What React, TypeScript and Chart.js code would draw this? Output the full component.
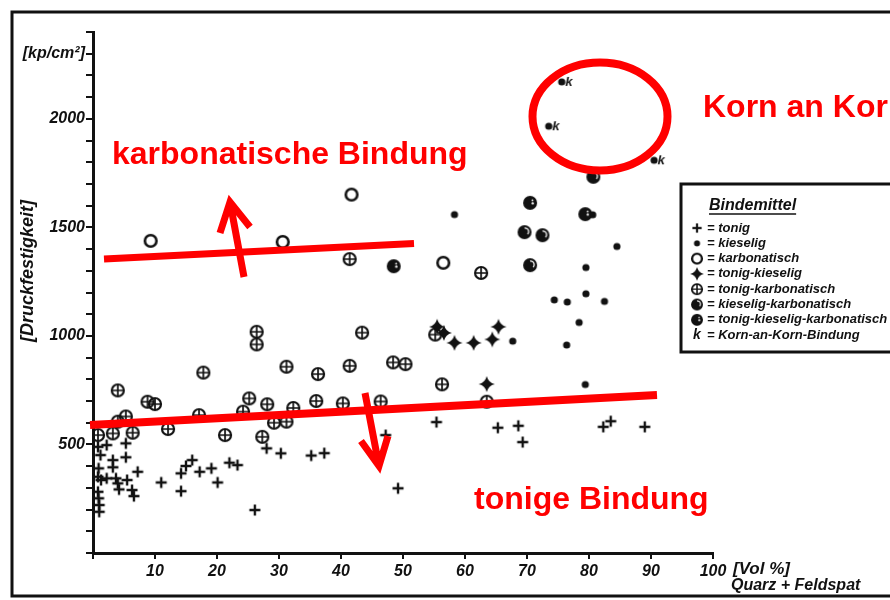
import React, { useEffect, useRef } from 'react';
import { Chart, registerables } from 'chart.js';

Chart.register(...registerables);

type Pt = [number, number];

// Quarz + Feldspat [Vol %] vs. Druckfestigkeit [kp/cm²], grouped by Bindemittel
const tonig: Pt[] = [
  [0.8, 489], [2.2, 497], [1.2, 451], [3.2, 428], [3.2, 395], [5.3, 505], [5.3, 441], [7.2, 374],
  [0.9, 390], [0.8, 351], [1.3, 336], [2.2, 344], [3.7, 344], [4.0, 321], [4.2, 293], [5.5, 336],
  [6.3, 290], [6.6, 262], [0.8, 282], [0.9, 252], [1.0, 221], [1.0, 190], [11.0, 325], [14.2, 367],
  [14.2, 285], [15.0, 401], [16.0, 428], [17.2, 374], [19.1, 390], [20.1, 325], [22.0, 416], [23.3, 405],
  [26.1, 198], [28.0, 482], [30.3, 459], [35.2, 449], [37.3, 460], [49.2, 298], [47.2, 543], [55.4, 603],
  [65.3, 577], [68.6, 586], [69.3, 511], [82.3, 581], [83.5, 607], [89.0, 581],
];
const kieselig: Pt[] = [
  [58.3, 1559], [84.5, 1412], [79.5, 1315], [74.4, 1166], [76.5, 1156], [79.5, 1194],
  [82.5, 1159], [78.4, 1062], [67.7, 976], [76.4, 958], [79.4, 776], [80.6, 1558],
];
const kornAnKorn: Pt[] = [[75.6, 2170], [73.5, 1966], [90.5, 1809]];
const karbonatisch: Pt[] = [[9.3, 1438], [30.6, 1433], [41.7, 1651], [56.5, 1337]];
const tonigKieselig: Pt[] = [
  [55.5, 1042], [56.6, 1014], [58.3, 968], [61.4, 968], [64.4, 984], [65.4, 1042], [63.5, 778],
];
const tonigKarbonatisch: Pt[] = [
  [0.8, 543], [3.2, 551], [6.4, 554], [4.0, 749], [8.8, 697], [10.0, 686], [12.1, 571], [17.1, 635],
  [21.3, 543], [24.2, 651], [25.2, 712], [27.3, 535], [28.1, 685], [29.2, 600], [31.2, 605], [32.3, 668],
  [5.3, 629], [4.0, 605], [17.8, 831], [26.4, 1019], [26.4, 961], [31.2, 858], [36.3, 824], [41.4, 862],
  [48.4, 878], [50.4, 870], [43.4, 1015], [55.2, 1006], [56.3, 777], [63.5, 697], [36.0, 700], [40.3, 689],
  [46.4, 698], [41.4, 1354], [62.6, 1290],
];
const kieseligKarbonatisch: Pt[] = [[69.6, 1478], [72.5, 1464], [70.5, 1326], [80.7, 1733]];
const tonigKieseligKarbonatisch: Pt[] = [[48.5, 1321], [70.5, 1613], [79.4, 1561]];

const xMin = 0;
const xMax = 100;
const yMin = 0;
const yMax = 2400;
const yLabelled = [500, 1000, 1500, 2000];
const yUnitTick = 2300;

const INK = '#111';
const RED = '#ff0000';
const AXIS_FONT = '"Liberation Sans", Arial, sans-serif';

function glyph(w: number, h: number, draw: (ctx: CanvasRenderingContext2D) => void) {
  const c = document.createElement('canvas');
  c.width = w;
  c.height = h;
  const ctx = c.getContext('2d')!;
  ctx.translate(w / 2, h / 2);
  ctx.fillStyle = INK;
  ctx.strokeStyle = INK;
  draw(ctx);
  return c;
}

function buildGlyphs() {
  const plus = glyph(14, 14, (c) => {
    c.lineWidth = 2.4;
    c.beginPath();
    c.moveTo(-5.5, 0); c.lineTo(5.5, 0);
    c.moveTo(0, -5.5); c.lineTo(0, 5.5);
    c.stroke();
  });
  const dot = glyph(10, 10, (c) => {
    c.beginPath(); c.arc(0, 0, 3.6, 0, Math.PI * 2); c.fill();
  });
  const ring = glyph(18, 18, (c) => {
    c.lineWidth = 2.6;
    c.beginPath(); c.arc(0, 0, 5.8, 0, Math.PI * 2); c.stroke();
  });
  const star = glyph(20, 20, (c) => {
    const r = 8, k = 1.6;
    c.beginPath();
    c.moveTo(0, -r);
    c.quadraticCurveTo(k, -k, r, 0);
    c.quadraticCurveTo(k, k, 0, r);
    c.quadraticCurveTo(-k, k, -r, 0);
    c.quadraticCurveTo(-k, -k, 0, -r);
    c.fill();
  });
  const oplus = glyph(18, 18, (c) => {
    c.lineWidth = 2.2;
    c.beginPath(); c.arc(0, 0, 6, 0, Math.PI * 2); c.stroke();
    c.lineWidth = 1.7;
    c.beginPath();
    c.moveTo(-5, 0); c.lineTo(5, 0);
    c.moveTo(0, -5); c.lineTo(0, 5);
    c.stroke();
  });
  const halfFilled = glyph(18, 18, (c) => {
    c.beginPath(); c.arc(0, 0, 7, 0, Math.PI * 2); c.fill();
    c.strokeStyle = '#fff';
    c.lineWidth = 1.3;
    c.beginPath(); c.arc(0.5, -0.5, 3.6, -Math.PI * 0.55, Math.PI * 0.25); c.stroke();
  });
  const spotFilled = glyph(18, 18, (c) => {
    c.beginPath(); c.arc(0, 0, 7, 0, Math.PI * 2); c.fill();
    c.fillStyle = '#fff';
    c.beginPath(); c.arc(2.6, 0.4, 1.2, 0, Math.PI * 2); c.fill();
    c.beginPath(); c.arc(2.4, -2.6, 0.9, 0, Math.PI * 2); c.fill();
  });
  const korn = glyph(30, 16, (c) => {
    c.beginPath(); c.arc(0, 0, 3.6, 0, Math.PI * 2); c.fill();
    c.font = `italic bold 13px ${AXIS_FONT}`;
    c.textBaseline = 'middle';
    c.fillText('k', 3.5, 0.5);
  });
  return { plus, dot, ring, star, oplus, halfFilled, spotFilled, korn };
}

const toXY = (pts: Pt[]) => pts.map(([x, y]) => ({ x, y }));

function arrow(ctx: CanvasRenderingContext2D, x0: number, y0: number, x1: number, y1: number, wa: [number, number], wb: [number, number]) {
  ctx.beginPath();
  ctx.moveTo(x0, y0);
  ctx.lineTo(x1, y1);
  ctx.moveTo(wa[0], wa[1]);
  ctx.lineTo(x1, y1);
  ctx.lineTo(wb[0], wb[1]);
  ctx.stroke();
}

export default function App() {
  const canvasRef = useRef<HTMLCanvasElement | null>(null);

  useEffect(() => {
    const g = buildGlyphs();

    const legendRows: { glyph: HTMLCanvasElement | null; mark?: string; text: string }[] = [
      { glyph: g.plus, text: '= tonig' },
      { glyph: g.dot, text: '= kieselig' },
      { glyph: g.ring, text: '= karbonatisch' },
      { glyph: g.star, text: '= tonig-kieselig' },
      { glyph: g.oplus, text: '= tonig-karbonatisch' },
      { glyph: g.halfFilled, text: '= kieselig-karbonatisch' },
      { glyph: g.spotFilled, text: '= tonig-kieselig-karbonatisch' },
      { glyph: null, mark: 'k', text: '= Korn-an-Korn-Bindung' },
    ];

    const decorations = {
      id: 'decorations',
      afterDraw(chart: Chart) {
        const ctx = chart.ctx;
        ctx.save();

        // outer frame
        ctx.strokeStyle = INK;
        ctx.lineWidth = 3;
        ctx.beginPath();
        ctx.moveTo(900, 12);
        ctx.lineTo(12, 12);
        ctx.lineTo(12, 596);
        ctx.lineTo(900, 596);
        ctx.stroke();

        // axis titles
        ctx.fillStyle = INK;
        ctx.font = `italic bold 18px ${AXIS_FONT}`;
        ctx.textAlign = 'center';
        ctx.textBaseline = 'middle';
        ctx.save();
        ctx.translate(28, 271);
        ctx.rotate(-Math.PI / 2);
        ctx.fillText('[Druckfestigkeit]', 0, 0);
        ctx.restore();

        ctx.textAlign = 'left';
        ctx.font = `italic bold 17px ${AXIS_FONT}`;
        ctx.fillText('[Vol %]', 733, 569);
        ctx.font = `italic bold 16px ${AXIS_FONT}`;
        ctx.textBaseline = 'alphabetic';
        ctx.fillText('Quarz + Feldspat', 731, 590);
        ctx.textBaseline = 'middle';

        // legend box
        ctx.lineWidth = 3;
        ctx.strokeRect(681, 184, 240, 168);
        ctx.font = `italic bold 16px ${AXIS_FONT}`;
        ctx.fillText('Bindemittel', 709, 206);
        const tw = ctx.measureText('Bindemittel').width;
        ctx.lineWidth = 1.5;
        ctx.beginPath();
        ctx.moveTo(709, 214);
        ctx.lineTo(709 + tw, 214);
        ctx.stroke();

        ctx.font = `italic bold 13px ${AXIS_FONT}`;
        legendRows.forEach((row, i) => {
          const y = 228 + i * 15.3;
          if (row.glyph) {
            const s = 0.85;
            const w = row.glyph.width * s;
            const h = row.glyph.height * s;
            ctx.drawImage(row.glyph, 697 - w / 2, y - h / 2, w, h);
          } else if (row.mark) {
            ctx.font = `italic bold 14px ${AXIS_FONT}`;
            ctx.textAlign = 'center';
            ctx.fillText(row.mark, 697, y);
            ctx.font = `italic bold 13px ${AXIS_FONT}`;
            ctx.textAlign = 'left';
          }
          ctx.fillText(row.text, 707, y);
        });

        // red annotations
        ctx.strokeStyle = RED;
        ctx.fillStyle = RED;
        ctx.lineCap = 'butt';
        ctx.lineWidth = 7;
        ctx.beginPath();
        ctx.moveTo(104, 259);
        ctx.lineTo(414, 243.5);
        ctx.stroke();
        ctx.lineWidth = 8;
        ctx.beginPath();
        ctx.moveTo(90, 425);
        ctx.lineTo(657, 395);
        ctx.stroke();

        ctx.lineWidth = 7;
        ctx.lineJoin = 'miter';
        arrow(ctx, 244, 277, 230, 202, [220, 233], [250, 227]);
        arrow(ctx, 365, 393, 379, 466, [361, 441], [388, 436]);

        ctx.lineWidth = 8;
        ctx.beginPath();
        ctx.ellipse(600, 116.5, 67.5, 54, 0, 0, Math.PI * 2);
        ctx.stroke();

        ctx.font = `bold 32px ${AXIS_FONT}`;
        ctx.textAlign = 'left';
        ctx.textBaseline = 'middle';
        ctx.fillText('karbonatische Bindung', 112, 155);
        ctx.fillText('Korn an Korn', 703, 108);
        ctx.fillText('tonige Bindung', 474, 500);

        ctx.restore();
      },
    };

    const tickFont = { family: AXIS_FONT, size: 16, style: 'italic' as const, weight: 'bold' as const };

    const chart = new Chart(canvasRef.current!, {
      type: 'scatter',
      data: {
        datasets: [
          { label: 'tonig', data: toXY(tonig), pointStyle: g.plus },
          { label: 'kieselig', data: toXY(kieselig), pointStyle: g.dot },
          { label: 'Korn-an-Korn-Bindung', data: toXY(kornAnKorn), pointStyle: g.korn },
          { label: 'karbonatisch', data: toXY(karbonatisch), pointStyle: g.ring },
          { label: 'tonig-kieselig', data: toXY(tonigKieselig), pointStyle: g.star },
          { label: 'tonig-karbonatisch', data: toXY(tonigKarbonatisch), pointStyle: g.oplus },
          { label: 'kieselig-karbonatisch', data: toXY(kieseligKarbonatisch), pointStyle: g.halfFilled },
          { label: 'tonig-kieselig-karbonatisch', data: toXY(tonigKieseligKarbonatisch), pointStyle: g.spotFilled },
        ].map((d) => ({ ...d, pointRadius: 6, pointHoverRadius: 6 })) as any,
      },
      options: {
        animation: false,
        responsive: true,
        maintainAspectRatio: false,
        devicePixelRatio: 1,
        layout: { padding: { left: 0, right: 177, top: 32, bottom: 0 } },
        plugins: { legend: { display: false }, tooltip: { enabled: false }, title: { display: false } },
        scales: {
          x: {
            type: 'linear',
            min: xMin,
            max: xMax,
            border: { display: true, color: INK, width: 3 },
            grid: { drawOnChartArea: false, drawTicks: true, tickLength: 6, color: INK, lineWidth: 2 },
            ticks: {
              stepSize: 10,
              autoSkip: false,
              maxRotation: 0,
              color: INK,
              padding: 3,
              font: tickFont,
              callback: (v: any) => (Number(v) === 0 ? '' : String(v)),
            },
            afterFit: (s: any) => { s.height = 47; },
          },
          y: {
            type: 'linear',
            min: yMin,
            max: yMax,
            border: { display: true, color: INK, width: 3 },
            grid: { drawOnChartArea: false, drawTicks: true, tickLength: 7, color: INK, lineWidth: 2 },
            ticks: {
              stepSize: 100,
              autoSkip: false,
              color: INK,
              padding: 1,
              font: (ctx: any) =>
                ctx.tick && ctx.tick.value === yUnitTick ? { ...tickFont, size: 16 } : tickFont,
              callback: (v: any) => {
                const n = Number(v);
                if (yLabelled.includes(n)) return String(n);
                if (n === yUnitTick) return '[kp/cm²]';
                return '';
              },
            },
            afterFit: (s: any) => { s.width = 93; },
          },
        },
      },
      plugins: [decorations],
    });

    return () => chart.destroy();
  }, []);

  return (
    <div style={{ position: 'absolute', left: 0, top: 0, width: 890, height: 600, background: '#fff' }}>
      <canvas ref={canvasRef} />
    </div>
  );
}
